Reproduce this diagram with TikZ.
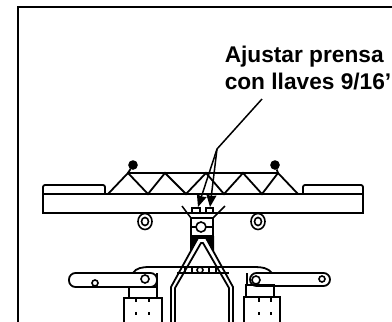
\documentclass[tikz,border=0pt]{standalone}
\usepackage{fontspec}
\setmainfont{Liberation Sans}
\usetikzlibrary{positioning, arrows.meta}

\begin{document}
\begin{tikzpicture}[x=1pt, y=-1pt, line width=1.5pt, >=Stealth,
    heavy/.style={line width=1.8pt},
    bolt/.style={fill=black, draw=black},
    washer/.style={draw, line width=1.6pt, fill=white},
    leader/.style={-{Stealth[length=12pt, width=10pt, inset=1pt]}, line width=1.5pt},
    tag/.style={font=\bfseries\fontsize{22.7}{27}\selectfont, align=left, anchor=north west, inner sep=0pt}]
\useasboundingbox (0,0) rectangle (392,322);

% frame
\draw[line width=2.4pt] (392,7) -- (18,7) -- (18,322);

% label
\node[tag] (label) at (224,45) {Ajustar prensa\\con llaves 9/16'};

% beam and end pads
\draw[heavy] (43,194) rectangle (363,213);
\draw[heavy, rounded corners=2pt] (43,194) -- (43,185) -- (105,185) -- (105,194);
\draw[heavy, rounded corners=2pt] (303,194) -- (303,185) -- (363,185) -- (363,194);

% truss
\draw[heavy] (108,194) -- (128,173) -- (148,194) -- (165,173) -- (186,194) -- (206,173)
    -- (224,194) -- (243,173) -- (262,194) -- (278,173) -- (298,194);
\draw[heavy] (128,173) -- (278,173);

% top bolts
\node[bolt, circle, inner sep=0pt, minimum size=8pt] (boltl) at (133,165) {};
\node[bolt, circle, inner sep=0pt, minimum size=8pt] (boltr) at (275,165) {};
\draw[heavy] (boltl) -- (128,173);
\draw[heavy] (boltr) -- (278,173);

% washers under the beam
\foreach \px/\nm in {145/l, 258/r} {
    \draw[washer] (\px,221.5) ellipse (7 and 8);
    \draw[washer] (\px,221.5) ellipse (3.5 and 4);
}

% clamp
\draw (182,206) -- (191,218);
\draw (225,206) -- (213,218);
\draw[heavy] (191,218) rectangle (213,236);
\draw (192,213) rectangle (200,208);
\draw (206,213) rectangle (213,208);
\draw (191,227) -- (213,227);
\node[washer, circle, inner sep=0pt, minimum size=10pt] (pin) at (201,227) {};
\fill (190,236) -- (199,236) -- (190,251) -- cycle;
\fill (214,236) -- (205,236) -- (214,251) -- cycle;

% leader with arrows
\coordinate (leadtop) at (262,99);
\coordinate (leadknee) at (217,149);
\coordinate (tipl) at (198,207);
\coordinate (tipr) at (210,207);
\draw (leadtop) -- (leadknee);
\draw[leader] (leadknee) -- (tipl);
\draw[leader] (leadknee) -- (tipr);

% cross bar
\draw[heavy] (177,267) -- (229,267);
\draw[heavy] (177,273) -- (229,273);
\foreach \px in {185,192,209,216} {
    \draw (\px,267) -- (\px,273);
}
\node[washer, circle, inner sep=0pt, minimum size=6pt] (barpin) at (200,270) {};
\draw[heavy] (133,273) .. controls (136,268) and (142,267) .. (150,267) -- (177,267);
\draw[heavy] (272,273) .. controls (268,268) and (262,267) .. (255,267) -- (229,267);

% frame legs
\draw[heavy] (171,322) -- (171,287) -- (198,238) -- (206,238) -- (233,287) -- (233,322);
\draw[heavy] (175,322) -- (175,288) -- (201,243) -- (203,243) -- (229,288) -- (229,322);

% arms
\draw[heavy, rounded corners=6.5pt] (69,273) rectangle (157,287);
\draw[heavy, rounded corners=6.5pt] (250,273) rectangle (330,286);
\node[washer, circle, inner sep=0pt, minimum size=6pt] (arml1) at (95,283) {};
\node[washer, circle, inner sep=0pt, minimum size=8pt] (arml2) at (145,279) {};
\node[washer, circle, inner sep=0pt, minimum size=8pt] (armr1) at (256,280) {};
\node[washer, circle, inner sep=0pt, minimum size=6pt] (armr2) at (322,279) {};

% posts
\draw[heavy] (129,287) rectangle (157,298);
\draw[heavy] (157,273) -- (157,298);
\draw[heavy] (124,322) -- (124,298) -- (162,298) -- (162,322);
\draw[heavy] (246,285) rectangle (274,297);
\draw[heavy] (247,273) -- (247,285);
\draw[heavy] (244,322) -- (244,297) -- (280,297) -- (280,322);

% post ticks
\foreach \px in {136,149,259,271} {
    \draw (\px,298) -- (\px,302);
    \draw (\px,312) -- (\px,315);
}
\end{tikzpicture}
\end{document}
